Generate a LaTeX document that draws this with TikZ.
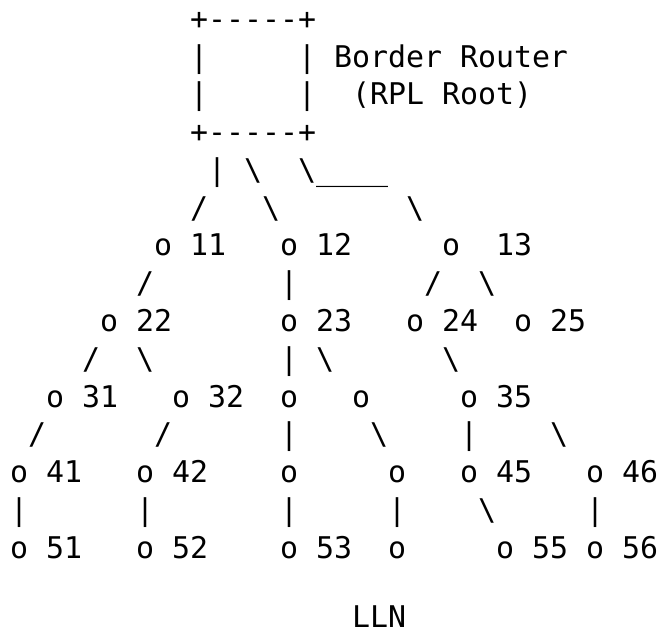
\documentclass[tikz,border=0pt]{standalone}
\usepackage{fontspec}
\setmonofont{DejaVu Sans Mono}[Ligatures=TeXOff]

\tikzset{
  cell/.style={inner sep=0pt, outer sep=0pt, anchor=base west,
    font=\ttfamily\fontsize{29.9}{36}\selectfont},
  stn/.style={cell},
  wire/.style={cell},
}

\begin{document}
\begin{tikzpicture}[x=18pt, y=-37.75pt, shift={(10pt,-29.5pt)}]
  \useasboundingbox (-10pt,29.5pt) rectangle (649pt,-606.5pt);

  % root box
  \node[cell] (boxtop) at (10,0) {+-----+};
  \node[cell] (boxl1)  at (10,1) {|};
  \node[cell] (boxr1)  at (16,1) {|};
  \node[cell] (boxl2)  at (10,2) {|};
  \node[cell] (boxr2)  at (16,2) {|};
  \node[cell] (boxbot) at (10,3) {+-----+};
  \node[cell] (brname) at (18,1) {Border Router};
  \node[cell] (brrole) at (19,2) {(RPL Root)};

  % stations: name/col/row/gap to label
  \foreach \n/\c/\k/\d in {11/8/6/2, 12/15/6/2, 13/24/6/3,
      22/5/8/2, 23/15/8/2, 24/22/8/2, 25/28/8/2,
      31/2/10/2, 32/9/10/2, 35/25/10/2,
      41/0/12/2, 42/7/12/2, 45/25/12/2, 46/32/12/2,
      51/0/14/2, 52/7/14/2, 53/15/14/2, 55/27/14/2, 56/32/14/2}
  {
    \node[stn] (s\n) at (\c,\k) {o};
    \node[cell] (l\n) at (\c+\d,\k) {\n};
  }
  % stations without a number
  \foreach \n/\c/\k in {33/15/10, 34/19/10, 43/15/12, 44/21/12, 54/21/14}
    \node[stn] (s\n) at (\c,\k) {o};

  % links, as printed
  \foreach \c/\k/\g in {11/4/|, 13/4/\textbackslash,
      16/4/\textbackslash\_\_\_\_,
      10/5/{/}, 14/5/\textbackslash, 22/5/\textbackslash,
      7/7/{/}, 15/7/|, 23/7/{/}, 26/7/\textbackslash,
      4/9/{/}, 7/9/\textbackslash, 15/9/|, 17/9/\textbackslash, 24/9/\textbackslash,
      1/11/{/}, 8/11/{/}, 15/11/|, 20/11/\textbackslash, 25/11/|, 30/11/\textbackslash,
      0/13/|, 7/13/|, 15/13/|, 21/13/|, 26/13/\textbackslash, 32/13/|}
    \node[wire] (w\c-\k) at (\c,\k) {\g};

  \node[cell] (lln) at (19,15.85) {LLN};
\end{tikzpicture}
\end{document}
